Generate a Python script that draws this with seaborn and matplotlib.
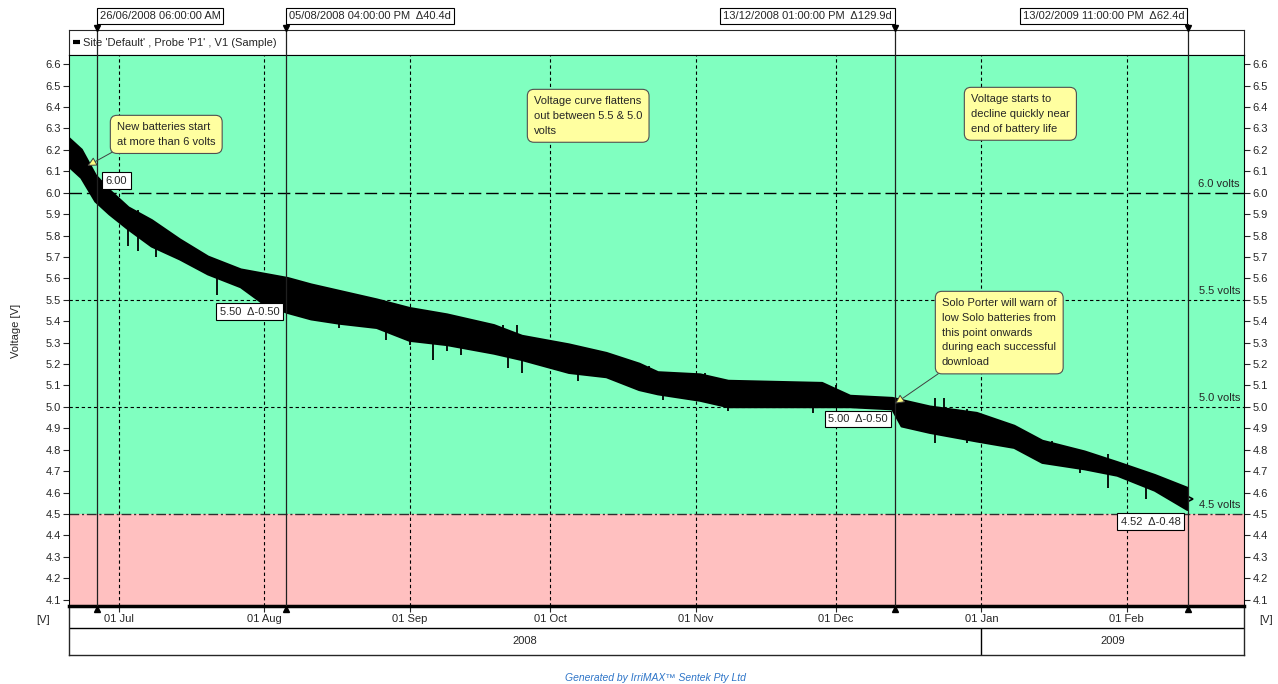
import matplotlib
matplotlib.use('Agg')
import matplotlib.pyplot as plt
import matplotlib.dates as mdates
import matplotlib.transforms as mtransforms
import pandas as pd
import seaborn as sns

sns.set_style("white")
plt.rcParams['font.family'] = ['Liberation Sans', 'DejaVu Sans']
plt.rcParams['font.size'] = 8

# envelope of the (very noisy) voltage trace
dates = pd.to_datetime([
    '2008-06-20 00:00', '2008-06-23 00:00', '2008-06-26 00:00', '2008-06-29 00:00', '2008-07-03 00:00',
    '2008-07-08 00:00', '2008-07-14 00:00', '2008-07-20 00:00', '2008-07-27 00:00', '2008-08-01 00:00',
    '2008-08-06 00:00', '2008-08-11 00:00', '2008-08-17 00:00', '2008-08-25 00:00', '2008-09-01 00:00',
    '2008-09-09 00:00', '2008-09-19 00:00', '2008-09-25 00:00', '2008-10-05 00:00', '2008-10-13 00:00',
    '2008-10-20 00:00', '2008-10-24 00:00', '2008-11-02 00:00', '2008-11-08 00:00', '2008-11-28 00:00',
    '2008-12-04 00:00', '2008-12-13 00:00', '2008-12-15 00:00', '2008-12-21 00:00', '2008-12-31 00:00',
    '2009-01-08 00:00', '2009-01-14 00:00', '2009-01-23 00:00', '2009-01-30 00:00', '2009-02-07 00:00',
    '2009-02-13 23:00',
], format='%Y-%m-%d %H:%M')
upper = [6.26, 6.20, 6.08, 6.01, 5.93, 5.87, 5.78, 5.70, 5.64, 5.62,
         5.60, 5.57, 5.54, 5.50, 5.46, 5.43, 5.38, 5.33, 5.29, 5.25,
         5.20, 5.16, 5.15, 5.12, 5.11, 5.05, 5.04, 5.03, 5.00, 4.97,
         4.91, 4.84, 4.79, 4.74, 4.68, 4.62]
lower = [6.13, 6.07, 5.96, 5.90, 5.83, 5.75, 5.69, 5.62, 5.56, 5.48,
         5.44, 5.41, 5.39, 5.37, 5.31, 5.29, 5.25, 5.22, 5.16, 5.14,
         5.08, 5.06, 5.03, 5.00, 5.00, 5.00, 4.99, 4.91, 4.88, 4.84,
         4.81, 4.74, 4.71, 4.68, 4.61, 4.52]

# isolated spikes sticking out of the band (start, end)
spike_dates = pd.to_datetime([
    '2008-07-03', '2008-07-05', '2008-07-09', '2008-07-22', '2008-08-08', '2008-08-17',
    '2008-08-27', '2008-09-01', '2008-09-06', '2008-09-09', '2008-09-12', '2008-09-22',
    '2008-09-25', '2008-10-07', '2008-10-25', '2008-11-08', '2008-11-26', '2008-12-22',
    '2008-12-29', '2009-01-22', '2009-01-28', '2009-02-05',
    '2008-07-05', '2008-07-09', '2008-09-09', '2008-09-10', '2008-09-21', '2008-09-24',
    '2008-09-28', '2008-10-06', '2008-10-14', '2008-10-22', '2008-11-03', '2008-12-01',
    '2008-12-22', '2008-12-24', '2008-12-29', '2009-01-06', '2009-01-16', '2009-01-28',
    '2009-02-09',
])
spike_low = [5.75, 5.73, 5.70, 5.52, 5.43, 5.37, 5.31, 5.29, 5.22, 5.26, 5.24, 5.18,
             5.16, 5.12, 5.03, 4.98, 4.97, 4.83, 4.83, 4.69, 4.62, 4.57,
             5.88, 5.83, 5.38, 5.38, 5.33, 5.30, 5.26, 5.25, 5.20, 5.15, 5.12, 5.05,
             4.97, 4.97, 4.93, 4.88, 4.80, 4.72, 4.62]
spike_high = [5.84, 5.80, 5.76, 5.64, 5.48, 5.43, 5.38, 5.35, 5.32, 5.33, 5.32, 5.26,
              5.24, 5.20, 5.10, 5.04, 5.04, 4.92, 4.90, 4.76, 4.72, 4.65,
              5.92, 5.86, 5.41, 5.41, 5.38, 5.38, 5.31, 5.29, 5.23, 5.19, 5.16, 5.10,
              5.04, 5.04, 4.99, 4.93, 4.84, 4.78, 4.66]

cursor_times = pd.to_datetime(['2008-06-26 06:00', '2008-08-05 16:00',
                               '2008-12-13 13:00', '2009-02-13 23:00'])
cursor_labels = ['26/06/2008 06:00:00 AM', '05/08/2008 04:00:00 PM  Δ40.4d',
                 '13/12/2008 01:00:00 PM  Δ129.9d', '13/02/2009 11:00:00 PM  Δ62.4d']
cursor_values = [6.00, 5.50, 5.00, 4.52]
value_labels = ['6.00', '5.50  Δ-0.50', '5.00  Δ-0.50', '4.52  Δ-0.48']

ref_levels = [6.0, 5.5, 5.0, 4.5]
ref_labels = ['6.0 volts', '5.5 volts', '5.0 volts', '4.5 volts']

month_ticks = pd.date_range('2008-07-01', '2009-02-01', freq='MS')
y_ticks = [round(4.1 + 0.1 * i, 1) for i in range(26)]
x_min, x_max = pd.Timestamp('2008-06-20 08:00'), pd.Timestamp('2009-02-26 00:00')
y_min, y_max = 4.07, 6.643

W, H = 1278, 684


def fx(px):
    return px / W


def fy(py):
    return 1 - py / H


fig = plt.figure(figsize=(W / 100, H / 100), dpi=100)

# bottom date/year box
axb = fig.add_axes([fx(69), fy(655), (1244 - 69) / W, (655 - 606) / H])
axb.set_xlim(x_min, x_max)
axb.set_ylim(0, 1)
axb.set_xticks([])
axb.set_yticks([])
for s in axb.spines.values():
    s.set_linewidth(1.0)
jan1 = pd.Timestamp('2009-01-01')
axb.axhline(27 / 49, color='black', lw=1.0)
axb.vlines(jan1, 0, 27 / 49, color='black', lw=1.0)
axb.text(x_min + (jan1 - x_min) / 2, 0.28, '2008', ha='center', va='center')
axb.text(jan1 + (x_max - jan1) / 2, 0.28, '2009', ha='center', va='center')

# legend strip
axs = fig.add_axes([fx(69), fy(55), (1244 - 69) / W, 25 / H])
axs.set_xlim(0, 1)
axs.set_ylim(0, 1)
axs.set_xticks([])
axs.set_yticks([])
axs.plot([0.003, 0.009], [0.5, 0.5], color='black', lw=3, solid_capstyle='butt')
axs.text(0.012, 0.5, "Site 'Default' , Probe 'P1' , V1 (Sample)", va='center', fontsize=8)

# main chart
ax = fig.add_axes([fx(69), fy(606), (1244 - 69) / W, (606 - 55) / H])
ax.set_zorder(3)
ax.axhspan(4.5, y_max, color='#80FFC0', zorder=0, lw=0)
ax.axhspan(y_min, 4.5, color='#FFC0C0', zorder=0, lw=0)

ax.fill_between(dates, lower, upper, color='black', lw=0, zorder=4)
sns.lineplot(x=dates, y=upper, ax=ax, color='black', lw=2.0, zorder=4)
sns.lineplot(x=dates, y=lower, ax=ax, color='black', lw=2.0, zorder=4)
ax.vlines(spike_dates, spike_low, spike_high, color='black', lw=1.3, zorder=4)
ax.plot([dates[-1]], [4.57], marker='>', ms=7, mfc='none', mec='black', mew=1.2, zorder=5)

# grid
for m in month_ticks:
    ax.axvline(m, color='black', lw=0.8, ls=(0, (3, 2.5)), zorder=2)
ax.axhline(6.0, color='black', lw=1.0, ls=(0, (9, 3.5)), zorder=2)
ax.axhline(5.5, color='black', lw=0.8, ls=(0, (3, 2.5)), zorder=2)
ax.axhline(5.0, color='black', lw=0.8, ls=(0, (3, 2.5)), zorder=2)
ax.axhline(4.5, color='#303030', lw=1.0, ls=(0, (7, 2, 1.5, 2)), zorder=2)

for lev, lab in zip(ref_levels, ref_labels):
    ax.annotate(lab, xy=(1.0, lev), xycoords=ax.get_yaxis_transform(),
                xytext=(-4, 9), textcoords='offset pixels', ha='right', va='center',
                fontsize=8, zorder=6)

ax.set_xlim(x_min, x_max)
ax.set_ylim(y_min, y_max)
ax.set_yticks(y_ticks)
ax.set_yticklabels([f'{v:.1f}' for v in y_ticks])
ax.set_xticks(month_ticks)
ax.xaxis.set_major_formatter(mdates.DateFormatter('%d %b'))
ax.tick_params(axis='y', which='both', direction='out', length=4, width=0.8, pad=2,
               left=True, right=True, labelleft=True, labelright=True, labelsize=8)
ax.tick_params(axis='x', direction='out', length=4, width=0.8, pad=2, labelsize=8,
               bottom=True)
ax.set_ylabel('Voltage [V]', fontsize=8)
ax.yaxis.set_label_coords(-0.041, 0.5)
ax.set_xlabel('')
for s in ['left', 'right', 'top']:
    ax.spines[s].set_linewidth(0.8)
    ax.spines[s].set_color('black')
ax.spines['bottom'].set_linewidth(2.5)
ax.spines['bottom'].set_color('black')

# cursors
trans = mtransforms.blended_transform_factory(ax.transData, fig.transFigure)
for i, (t, lab, val, vlab) in enumerate(zip(cursor_times, cursor_labels, cursor_values, value_labels)):
    tn = mdates.date2num(t)
    ax.plot([tn, tn], [fy(24), fy(606)], transform=trans, color='#202020', lw=0.9,
            clip_on=False, zorder=7)
    ax.plot([tn], [fy(28)], transform=trans, marker='v', color='black', ms=5, clip_on=False, zorder=8)
    ax.plot([tn], [fy(609)], transform=trans, marker='^', color='black', ms=5, clip_on=False, zorder=8)
    ha = 'left' if i < 2 else 'right'
    dx = 3 if i < 2 else -3
    ax.annotate(lab, xy=(tn, fy(16)), xycoords=trans, xytext=(dx, 0), textcoords='offset pixels',
                ha=ha, va='center', fontsize=8, annotation_clip=False, zorder=9,
                bbox=dict(boxstyle='square,pad=0.25', fc='white', ec='black', lw=0.8))
    if i == 0:
        off, ha2 = (9, 12), 'left'
    else:
        off, ha2 = (-7, -12), 'right'
    ax.annotate(vlab, xy=(tn, val), xytext=off, textcoords='offset pixels', ha=ha2, va='center',
                fontsize=8, zorder=9,
                bbox=dict(boxstyle='square,pad=0.3', fc='white', ec='black', lw=0.8))

# callouts
box = dict(boxstyle='round,pad=0.6,rounding_size=0.6', fc='#FFFFA0', ec='#505050', lw=0.8)
arrow = dict(arrowstyle='-|>', ec='#404040', fc='#FFFF80', lw=0.7, mutation_scale=14,
             shrinkA=0, shrinkB=0, relpos=(0.05, 0.0))
ax.annotate('New batteries start\nat more than 6 volts',
            xy=(mdates.date2num(pd.Timestamp('2008-06-24 06:00')), 6.125),
            xytext=(117, H - 122), textcoords='figure pixels', ha='left', va='top',
            linespacing=1.6, bbox=box, arrowprops=arrow, zorder=10)
ax.annotate('Solo Porter will warn of\nlow Solo batteries from\nthis point onwards\nduring each successful\ndownload',
            xy=(mdates.date2num(cursor_times[2]), 5.015), xytext=(942, H - 298), textcoords='figure pixels',
            ha='left', va='top', linespacing=1.6, bbox=box, arrowprops=arrow, zorder=10)
ax.annotate('Voltage curve flattens\nout between 5.5 & 5.0\nvolts', xy=(534, H - 96),
            xycoords='figure pixels', ha='left', va='top', linespacing=1.6, bbox=box, zorder=10)
ax.annotate('Voltage starts to\ndecline quickly near\nend of battery life', xy=(971, H - 94),
            xycoords='figure pixels', ha='left', va='top', linespacing=1.6, bbox=box, zorder=10)

fig.text(fx(43), fy(620), '[V]', ha='center', va='center', fontsize=8)
fig.text(fx(1266), fy(620), '[V]', ha='center', va='center', fontsize=8)
fig.text(fx(655), fy(678), 'Generated by IrriMAX™ Sentek Pty Ltd', ha='center', va='center',
         fontsize=7.5, style='italic', color='#2E75C8')

fig.savefig('out.png', dpi=100)
